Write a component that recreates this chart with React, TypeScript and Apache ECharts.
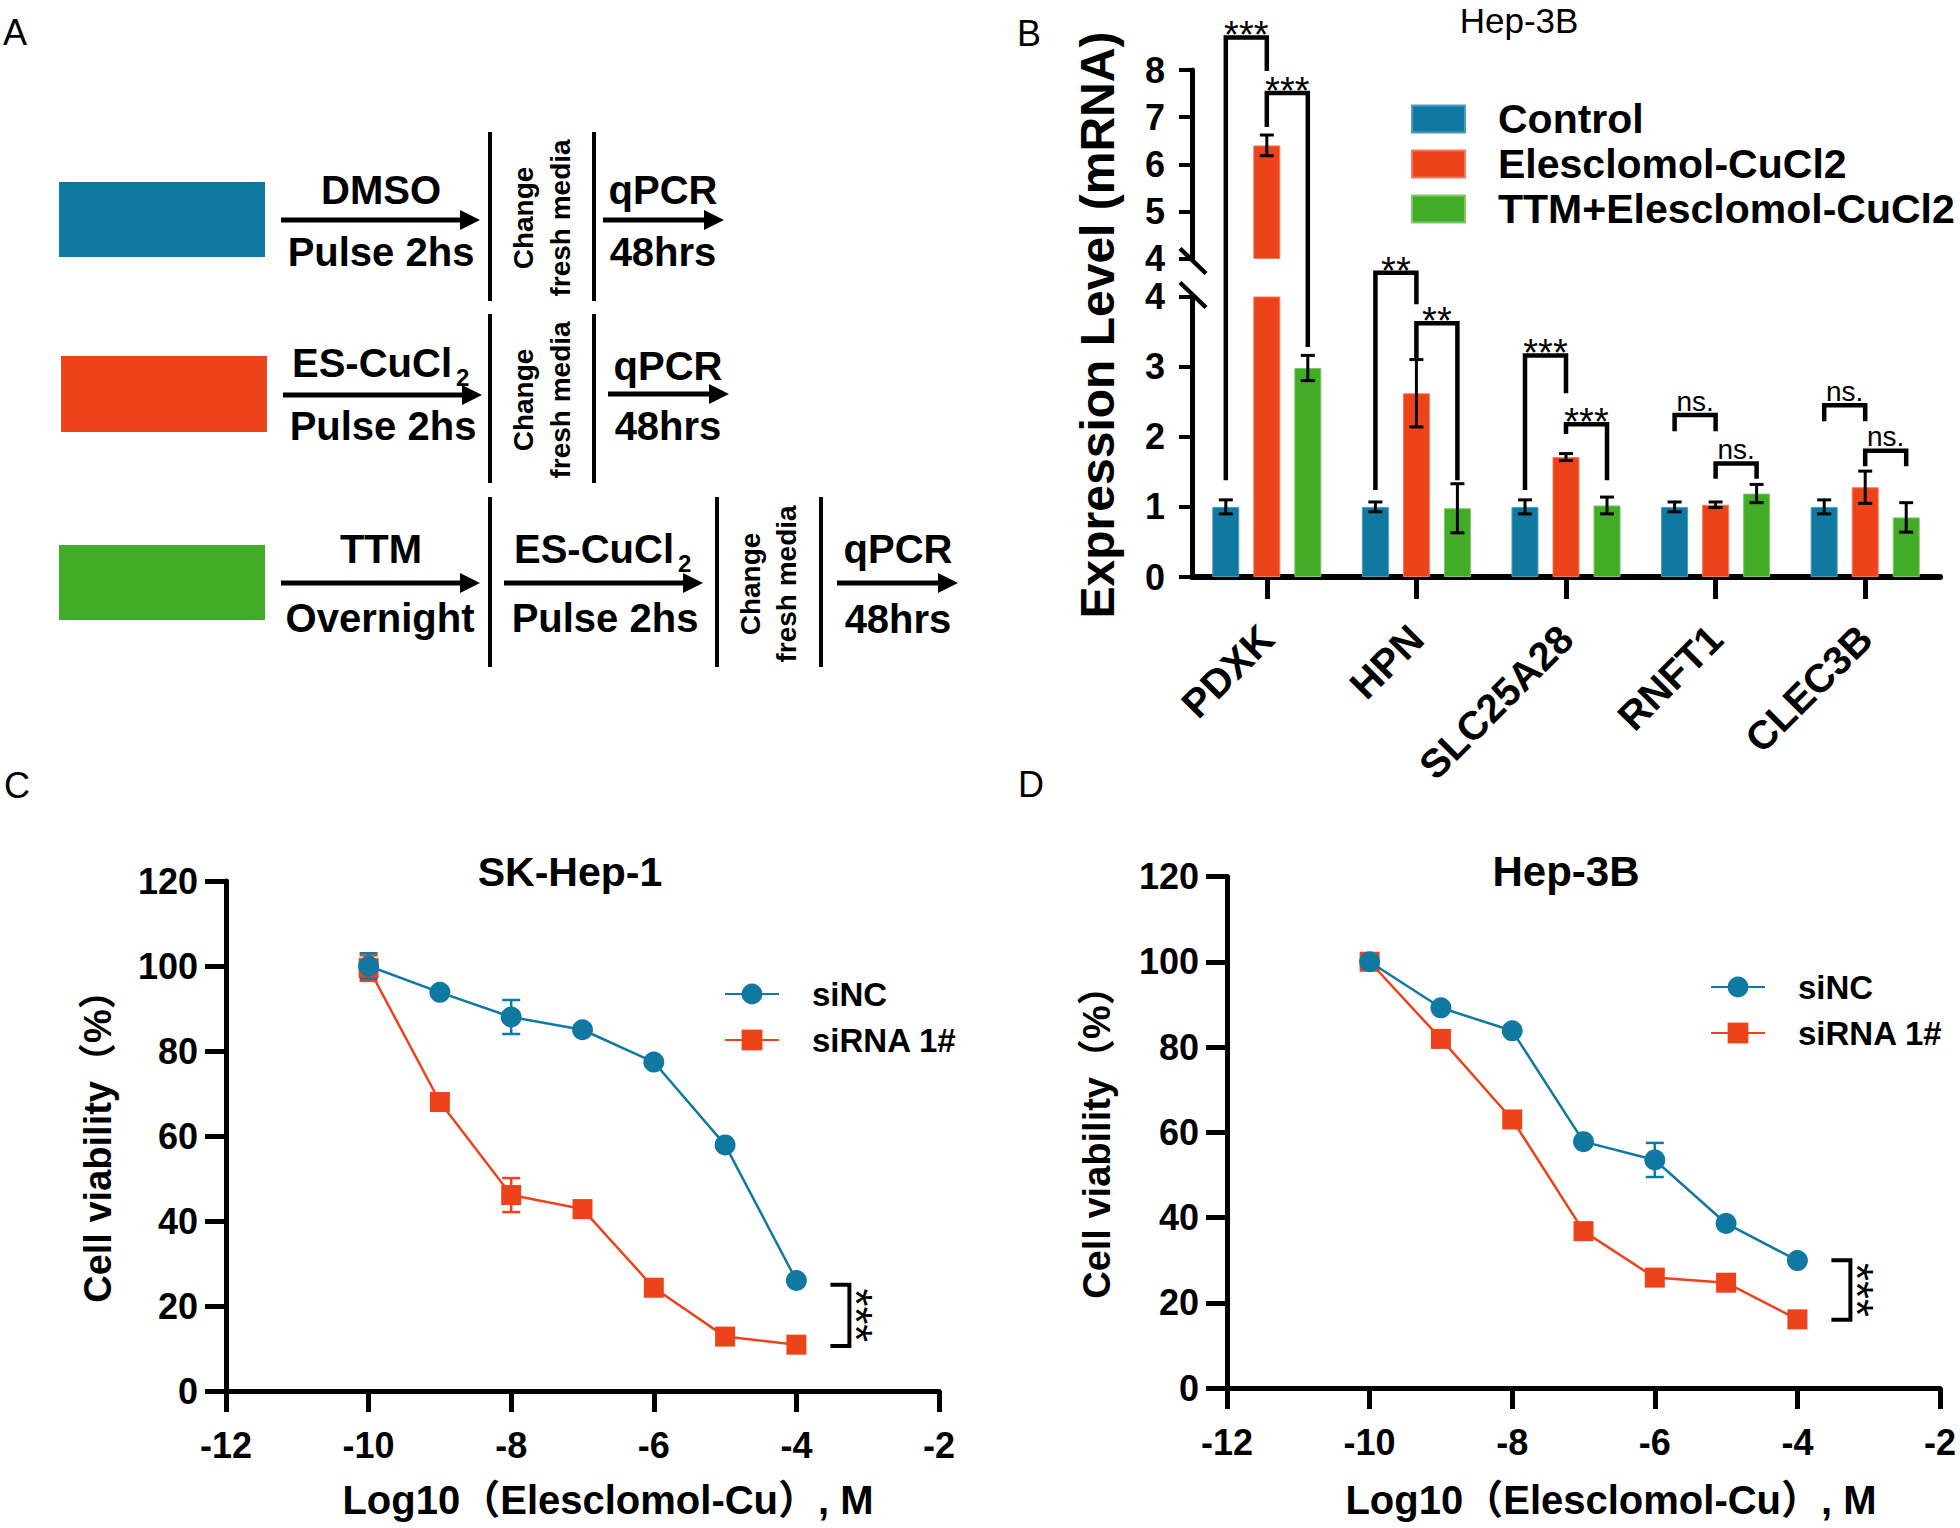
import React, { useEffect, useRef } from 'react';
import * as echarts from 'echarts';

// ---------------- Panel B data ----------------
const GENES = ['PDXK', 'HPN', 'SLC25A28', 'RNFT1', 'CLEC3B'];
const GROUPS = ['Control', 'Elesclomol-CuCl2', 'TTM+Elesclomol-CuCl2'];
const CONTROL = [1.0, 1.0, 1.0, 1.0, 1.0];
const ES_CU = [6.4, 2.62, 1.71, 1.03, 1.28];
const TTM_ES = [2.98, 0.98, 1.02, 1.19, 0.85];
const CONTROL_SD = [0.1, 0.07, 0.1, 0.07, 0.1];
const ES_CU_SD = [0.22, 0.48, 0.05, 0.04, 0.23];
const TTM_ES_SD = [0.18, 0.35, 0.12, 0.13, 0.21];
const B_BREAK = 4;
const B_MAX = 8;

// significance brackets: [value, segment of the broken axis]
type P = [number, 'lo' | 'hi'];
const B_SIG: { gene: number; from: number; to: number; left: P; top: P; right: P; label: string }[] = [
  { gene: 0, from: 0, to: 1, left: [1.38, 'lo'], top: [8.69, 'hi'], right: [7.98, 'hi'], label: '***' },
  { gene: 0, from: 1, to: 2, left: [6.79, 'hi'], top: [7.51, 'hi'], right: [3.28, 'lo'], label: '***' },
  { gene: 1, from: 0, to: 1, left: [1.24, 'lo'], top: [4.34, 'lo'], right: [3.89, 'lo'], label: '**' },
  { gene: 1, from: 1, to: 2, left: [3.12, 'lo'], top: [3.62, 'lo'], right: [1.38, 'lo'], label: '**' },
  { gene: 2, from: 0, to: 1, left: [1.24, 'lo'], top: [3.16, 'lo'], right: [2.62, 'lo'], label: '***' },
  { gene: 2, from: 1, to: 2, left: [2.04, 'lo'], top: [2.18, 'lo'], right: [1.38, 'lo'], label: '***' },
  { gene: 3, from: 0, to: 1, left: [2.08, 'lo'], top: [2.31, 'lo'], right: [2.08, 'lo'], label: 'ns.' },
  { gene: 3, from: 1, to: 2, left: [1.4, 'lo'], top: [1.62, 'lo'], right: [1.4, 'lo'], label: 'ns.' },
  { gene: 4, from: 0, to: 1, left: [2.22, 'lo'], top: [2.45, 'lo'], right: [2.22, 'lo'], label: 'ns.' },
  { gene: 4, from: 1, to: 2, left: [1.58, 'lo'], top: [1.8, 'lo'], right: [1.58, 'lo'], label: 'ns.' },
];

// ---------------- Panels C / D data ----------------
const DOSE = [-10, -9, -8, -7, -6, -5, -4];
const C_SINC = [100, 93.8, 88.0, 85.0, 77.4, 57.9, 26.0];
const C_SINC_SD = [3, 0, 4, 0, 0, 0, 0];
const C_SIRNA = [99.5, 68.0, 46.1, 42.8, 24.3, 12.8, 10.9];
const C_SIRNA_SD = [3, 0, 4, 0, 0, 0, 0];
const D_SINC = [100, 89.2, 83.8, 57.8, 53.5, 38.6, 29.9];
const D_SINC_SD = [0, 0, 0, 0, 4, 0, 0];
const D_SIRNA = [100, 81.9, 63.0, 36.8, 25.9, 24.7, 16.1];
const D_SIRNA_SD = [0, 0, 0, 0, 0, 0, 0];
const C_BRACKET = [25, 10.6];
const D_BRACKET = [30, 16];
const SIG_DOSE = -4;

// ---------------- styles ----------------
const FONT = "'Liberation Sans', Arial, 'Noto Sans CJK SC', sans-serif";
const BLUE = '#1079A2';
const RED = '#EC431A';
const GREEN = '#43AC26';
const GROUP_COLORS = [BLUE, RED, GREEN];
const GROUP_BORDERS = ['#4C9CC2', '#F27B5D', '#7DC868'];
const BAR_W = 27;
const BAR_STEP = 41;

function txt(text: string, x: number, y: number, size: number, weight = 'bold', align = 'center', rotation = 0, vAlign = 'middle') {
  return {
    type: 'text', x, y, rotation, silent: true,
    style: {
      text, fill: '#000', fontSize: size, fontWeight: weight, fontFamily: FONT,
      textAlign: align, textVerticalAlign: vAlign, align, verticalAlign: vAlign,
    },
  };
}
function ln(x1: number, y1: number, x2: number, y2: number, w = 4) {
  return { type: 'line', silent: true, shape: { x1, y1, x2, y2 }, style: { stroke: '#000', lineWidth: w } };
}
function arrow(x1: number, x2: number, y: number) {
  return [
    ln(x1, y, x2 - 15, y, 5),
    { type: 'polygon', silent: true, shape: { points: [[x2, y], [x2 - 20, y - 10], [x2 - 20, y + 10]] }, style: { fill: '#000' } },
  ];
}

function staticGraphics(): any[] {
  const R = Math.PI / 2;
  return [
    // panel labels
    txt('A', 15, 32, 36, 'normal'),
    txt('B', 1029, 33, 36, 'normal'),
    txt('C', 17, 785, 36, 'normal'),
    txt('D', 1031, 784, 36, 'normal'),
    // ---- panel A ----
    { type: 'rect', silent: true, shape: { x: 59, y: 182, width: 206, height: 75 }, style: { fill: BLUE } },
    { type: 'rect', silent: true, shape: { x: 61, y: 356, width: 206, height: 76 }, style: { fill: RED } },
    { type: 'rect', silent: true, shape: { x: 59, y: 545, width: 206, height: 75 }, style: { fill: GREEN } },
    // row 1
    txt('DMSO', 381, 190, 40), txt('Pulse 2hs', 381, 252, 40),
    ...arrow(281, 480, 220),
    ln(490, 132, 490, 301), ln(594, 132, 594, 301),
    txt('Change', 523, 218, 28, 'bold', 'center', R), txt('fresh media', 560, 218, 28, 'bold', 'center', R),
    txt('qPCR', 663, 190, 40), txt('48hrs', 663, 252, 40),
    ...arrow(603, 724, 220),
    // row 2
    txt('ES-CuCl', 292, 363, 40, 'bold', 'left'), txt('2', 456, 377, 24, 'bold', 'left'),
    txt('Pulse 2hs', 383, 426, 40),
    ...arrow(283, 482, 395),
    ln(490, 314, 490, 483), ln(594, 314, 594, 483),
    txt('Change', 523, 400, 28, 'bold', 'center', R), txt('fresh media', 560, 400, 28, 'bold', 'center', R),
    txt('qPCR', 668, 366, 40), txt('48hrs', 668, 426, 40),
    ...arrow(608, 729, 394),
    // row 3
    txt('TTM', 381, 549, 40), txt('Overnight', 380, 618, 40),
    ...arrow(281, 480, 583),
    ln(490, 497, 490, 667),
    txt('ES-CuCl', 514, 549, 40, 'bold', 'left'), txt('2', 678, 563, 24, 'bold', 'left'),
    txt('Pulse 2hs', 605, 618, 40),
    ...arrow(504, 703, 583),
    ln(717, 497, 717, 667), ln(821, 497, 821, 667),
    txt('Change', 750, 584, 28, 'bold', 'center', R), txt('fresh media', 786, 584, 28, 'bold', 'center', R),
    txt('qPCR', 898, 549, 40), txt('48hrs', 898, 619, 40),
    ...arrow(837, 958, 583),
    // ---- panel B texts ----
    txt('Hep-3B', 1519, 20, 35, 'normal'),
    txt('Expression Level (mRNA)', 1097, 325, 48, 'bold', 'center', R),
    // ---- panel C / D texts ----
    txt('SK-Hep-1', 570, 872, 41),
    txt('Cell viability（%）', 98, 1137, 38, 'bold', 'center', R),
    txt('Log10（Elesclomol-Cu）, M', 608, 1500, 40),
    txt('Hep-3B', 1566, 871, 42),
    txt('Cell viability（%）', 1097, 1133, 38, 'bold', 'center', R),
    txt('Log10（Elesclomol-Cu）, M', 1611, 1500, 40),
  ];
}

const axisLineStyle = (w: number) => ({ show: true, onZero: false, lineStyle: { color: '#000', width: w } });
const tickStyle = (len: number, w: number) => ({ show: true, length: len, lineStyle: { color: '#000', width: w } });
const labelStyle = (size: number, margin: number) => ({ fontSize: size, fontWeight: 'bold', color: '#000', fontFamily: FONT, margin });

function bErrRenderer(params: any, api: any) {
  const i = api.value(0), v = api.value(1), sd = api.value(2), s = api.value(3);
  const c = api.coord([i, v]);
  const x = c[0] + (s - 1) * BAR_STEP;
  const yt = api.coord([i, v + sd])[1];
  const yb = api.coord([i, v - sd])[1];
  const st = { stroke: '#000', lineWidth: 3 };
  return {
    type: 'group', children: [
      { type: 'line', shape: { x1: x, y1: yt, x2: x, y2: yb }, style: st },
      { type: 'line', shape: { x1: x - 7, y1: yt, x2: x + 7, y2: yt }, style: st },
      { type: 'line', shape: { x1: x - 7, y1: yb, x2: x + 7, y2: yb }, style: st },
    ],
  };
}

function lineErr(grid: number, ys: number[], sds: number[], color: string, z: number) {
  return {
    type: 'custom', xAxisIndex: grid, yAxisIndex: grid, z,
    data: DOSE.map((d, i) => [d, ys[i], sds[i]]),
    encode: { x: 0, y: 1 },
    renderItem: (params: any, api: any) => {
      const x = api.value(0), y = api.value(1), e = api.value(2);
      if (!e) return null;
      const t = api.coord([x, y + e]);
      const b = api.coord([x, y - e]);
      const st = { stroke: color, lineWidth: 2.5 };
      return {
        type: 'group', children: [
          { type: 'line', shape: { x1: t[0], y1: t[1], x2: b[0], y2: b[1] }, style: st },
          { type: 'line', shape: { x1: t[0] - 9, y1: t[1], x2: t[0] + 9, y2: t[1] }, style: st },
          { type: 'line', shape: { x1: b[0] - 9, y1: b[1], x2: b[0] + 9, y2: b[1] }, style: st },
        ],
      };
    },
  };
}

function buildOption(): any {
  const vals = [CONTROL, ES_CU, TTM_ES];
  const sds = [CONTROL_SD, ES_CU_SD, TTM_ES_SD];
  const lowErr: any[] = [];
  const highErr: any[] = [];
  vals.forEach((arr, s) => arr.forEach((v, i) => {
    (v > B_BREAK ? highErr : lowErr).push([i, v, sds[s][i], s]);
  }));
  const barSeries: any[] = [];
  GROUPS.forEach((name, s) => {
    const common = {
      type: 'bar', name, barWidth: BAR_W, barGap: '52%',
      itemStyle: { color: GROUP_COLORS[s], borderColor: GROUP_BORDERS[s], borderWidth: 1 },
    };
    barSeries.push({ ...common, xAxisIndex: 0, yAxisIndex: 0, data: vals[s].map((v) => Math.min(v, B_BREAK)) });
    barSeries.push({ ...common, xAxisIndex: 1, yAxisIndex: 1, data: vals[s].map((v) => (v > B_BREAK ? v : '-')) });
  });

  const valX = (grid: number) => ({
    gridIndex: grid, type: 'value', min: -12, max: -2, interval: 2,
    axisLine: axisLineStyle(5), axisTick: tickStyle(21, 5), axisLabel: labelStyle(36, 36), splitLine: { show: false },
  });
  const valY = (grid: number) => ({
    gridIndex: grid, type: 'value', min: 0, max: 120, interval: 20,
    axisLine: axisLineStyle(5), axisTick: tickStyle(21, 5), axisLabel: labelStyle(36, 28), splitLine: { show: false },
  });
  const lineSeries = (grid: number, name: string, ys: number[], color: string, symbol: string, size: number, z: number) => ({
    type: 'line', name, xAxisIndex: grid, yAxisIndex: grid, z,
    data: DOSE.map((d, i) => [d, ys[i]]),
    symbol, symbolSize: size, showSymbol: true,
    lineStyle: { color, width: 2.5 }, itemStyle: { color },
  });
  const lineLegend = (left: number, top: number) => ({
    left, top, orient: 'vertical', padding: 0, itemGap: 0, itemWidth: 54, itemHeight: 26,
    selectedMode: false, data: ['siNC', 'siRNA 1#'],
    textStyle: { fontSize: 33, fontWeight: 'bold', color: '#000', fontFamily: FONT, lineHeight: 46, padding: [0, 0, 0, 28] },
  });

  return {
    animation: false,
    backgroundColor: '#fff',
    textStyle: { fontFamily: FONT },
    grid: [
      { left: 1192, top: 296.5, width: 748, height: 280.5 },
      { left: 1192, top: 70, width: 748, height: 188.5 },
      { left: 226, top: 881, width: 713, height: 510 },
      { left: 1227, top: 876.5, width: 713, height: 511.5 },
    ],
    xAxis: [
      {
        gridIndex: 0, type: 'category', data: GENES,
        axisLine: axisLineStyle(6), axisTick: { ...tickStyle(22, 5), alignWithLabel: true },
        axisLabel: { ...labelStyle(40, 55), rotate: 45, interval: 0 },
      },
      { gridIndex: 1, type: 'category', data: GENES, show: false },
      valX(2),
      valX(3),
    ],
    yAxis: [
      {
        gridIndex: 0, type: 'value', min: 0, max: B_BREAK, interval: 1,
        axisLine: axisLineStyle(5), axisTick: tickStyle(13, 4), axisLabel: labelStyle(36, 27), splitLine: { show: false },
      },
      {
        gridIndex: 1, type: 'value', min: B_BREAK, max: B_MAX, interval: 1,
        axisLine: axisLineStyle(5), axisTick: tickStyle(13, 4), axisLabel: labelStyle(36, 27), splitLine: { show: false },
      },
      valY(2),
      valY(3),
    ],
    legend: [
      {
        left: 1411, top: 96.5, orient: 'vertical', padding: 0, itemGap: 0, itemWidth: 53, itemHeight: 27,
        icon: 'rect', selectedMode: false, data: GROUPS,
        textStyle: { fontSize: 41, fontWeight: 'bold', color: '#000', fontFamily: FONT, lineHeight: 45, padding: [0, 0, 0, 28] },
      },
      lineLegend(724, 971),
      lineLegend(1710, 964),
    ],
    series: [
      ...barSeries,
      { type: 'custom', xAxisIndex: 0, yAxisIndex: 0, z: 5, data: lowErr, encode: { x: 0, y: 1 }, renderItem: bErrRenderer },
      { type: 'custom', xAxisIndex: 1, yAxisIndex: 1, z: 5, data: highErr, encode: { x: 0, y: 1 }, renderItem: bErrRenderer },
      lineSeries(2, 'siRNA 1#', C_SIRNA, RED, 'rect', 20, 2),
      lineErr(2, C_SIRNA, C_SIRNA_SD, RED, 3),
      lineErr(2, C_SINC, C_SINC_SD, BLUE, 3),
      lineSeries(2, 'siNC', C_SINC, BLUE, 'circle', 21, 4),
      lineSeries(3, 'siRNA 1#', D_SIRNA, RED, 'rect', 20, 2),
      lineErr(3, D_SIRNA, D_SIRNA_SD, RED, 3),
      lineErr(3, D_SINC, D_SINC_SD, BLUE, 3),
      lineSeries(3, 'siNC', D_SINC, BLUE, 'circle', 21, 4),
    ],
  };
}

export default function App() {
  const ref = useRef<HTMLDivElement>(null);
  useEffect(() => {
    document.body.style.margin = '0';
    const chart = echarts.init(ref.current!, null, { renderer: 'svg' });
    chart.setOption(buildOption());
    const px = (g: number, x: number, y: number) => chart.convertToPixel({ gridIndex: g } as any, [x, y]) as number[];
    const dyn: any[] = [];

    // axis-break slashes on panel B
    const ax = px(0, 0, 0)[0] - (748 / GENES.length) / 2;
    const yHi = px(1, 0, B_BREAK)[1];
    const yLo = px(0, 0, B_BREAK)[1];
    dyn.push(ln(ax - 12, yHi - 10, ax + 14, yHi + 15, 4.5));
    dyn.push(ln(ax - 12, yLo - 14, ax + 14, yLo + 11, 4.5));

    // significance brackets panel B
    const yOf = (p: P) => px(p[1] === 'hi' ? 1 : 0, 0, p[0])[1];
    const xOf = (gene: number, s: number) => px(0, gene, 0)[0] + (s - 1) * BAR_STEP;
    B_SIG.forEach((sg) => {
      const xl = xOf(sg.gene, sg.from), xr = xOf(sg.gene, sg.to);
      const yl = yOf(sg.left), yt = yOf(sg.top), yr = yOf(sg.right);
      dyn.push({
        type: 'polyline', silent: true,
        shape: { points: [[xl, yl], [xl, yt], [xr, yt], [xr, yr]] },
        style: { stroke: '#000', lineWidth: 4.5, lineJoin: 'miter', fill: null },
      });
      const isNs = sg.label === 'ns.';
      dyn.push(txt(sg.label, (xl + xr) / 2, yt + (isNs ? -14 : -2), isNs ? 28 : 38, 'normal'));
    });

    // brackets panels C / D
    const side = (grid: number, br: number[]) => {
      const top = px(grid, SIG_DOSE, br[0]);
      const bot = px(grid, SIG_DOSE, br[1]);
      const xl = top[0] + 34, xr = top[0] + 53;
      dyn.push({
        type: 'polyline', silent: true,
        shape: { points: [[xl, top[1]], [xr, top[1]], [xr, bot[1]], [xl, bot[1]]] },
        style: { stroke: '#000', lineWidth: 4, lineJoin: 'miter', fill: null },
      });
      dyn.push(txt('***', xr + 7, (top[1] + bot[1]) / 2, 46, 'normal', 'center', -Math.PI / 2));
    };
    side(2, C_BRACKET);
    side(3, D_BRACKET);

    chart.setOption({ graphic: { elements: [...staticGraphics(), ...dyn] } });
    return () => chart.dispose();
  }, []);
  return <div ref={ref} style={{ position: 'fixed', left: 0, top: 0, width: 1960, height: 1528 }} />;
}
